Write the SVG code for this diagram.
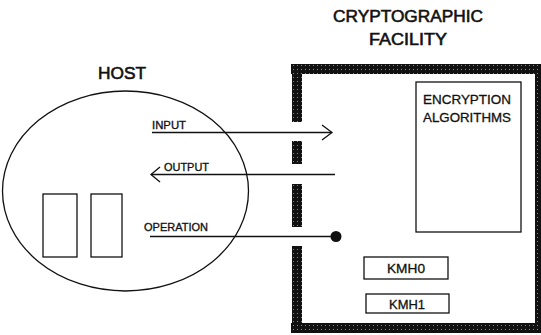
<svg xmlns="http://www.w3.org/2000/svg" width="541" height="335" viewBox="0 0 541 335">
<style>
  .t { font-family: "Liberation Sans", "DejaVu Sans", sans-serif; fill: #111; stroke: #111; stroke-width: 0.3; }
  .big { stroke-width: 0.6; }
  .ln { stroke: #111; stroke-width: 1.3; fill: none; }
  .bx { stroke: #111; stroke-width: 1.3; fill: #fff; }
  .wall { fill: url(#stipple); }
</style>
<defs>
  <pattern id="stipple" width="4" height="4" patternUnits="userSpaceOnUse">
    <rect width="4" height="4" fill="#111"/>
    <rect x="1" y="1" width="1" height="1" fill="#888"/>
  </pattern>
</defs>
<rect width="541" height="335" fill="#fff"/>

<g id="title">
  <text class="t big" x="408" y="22" font-size="17" text-anchor="middle" textLength="150" lengthAdjust="spacingAndGlyphs">CRYPTOGRAPHIC</text>
  <text class="t big" x="408" y="45" font-size="17" text-anchor="middle" textLength="78" lengthAdjust="spacingAndGlyphs">FACILITY</text>
</g>

<g id="host">
  <text class="t big" x="98" y="79" font-size="17" textLength="48" lengthAdjust="spacingAndGlyphs">HOST</text>
  <ellipse class="ln" cx="125.5" cy="191" rx="123" ry="100"/>
  <rect class="ln" x="43" y="194" width="34" height="63"/>
  <rect class="ln" x="91" y="194" width="31" height="63"/>
</g>

<g id="facility">
  <rect class="wall" x="291" y="64" width="250" height="10"/>
  <rect class="wall" x="535" y="64" width="6" height="269"/>
  <rect class="wall" x="291" y="323" width="250" height="10"/>
  <rect class="wall" x="292" y="64" width="10" height="58"/>
  <rect class="wall" x="292" y="141" width="10" height="23"/>
  <rect class="wall" x="292" y="184" width="10" height="43"/>
  <rect class="wall" x="292" y="246" width="10" height="87"/>
</g>

<g id="encryption">
  <rect class="bx" x="416" y="82" width="105" height="150"/>
  <text class="t" x="423" y="104" font-size="13" textLength="88" lengthAdjust="spacingAndGlyphs">ENCRYPTION</text>
  <text class="t" x="423" y="122" font-size="13" textLength="88" lengthAdjust="spacingAndGlyphs">ALGORITHMS</text>
</g>

<g id="kmh0">
  <rect class="bx" x="364" y="257" width="84" height="22"/>
  <text class="t" x="406" y="273" font-size="13" text-anchor="middle" textLength="38" lengthAdjust="spacingAndGlyphs">KMH0</text>
</g>

<g id="kmh1">
  <rect class="bx" x="366" y="294" width="83" height="19"/>
  <text class="t" x="407" y="309" font-size="13" text-anchor="middle" textLength="36" lengthAdjust="spacingAndGlyphs">KMH1</text>
</g>

<g id="connectors">
  <line class="ln" x1="152" y1="132.5" x2="331" y2="132.5"/>
  <polyline class="ln" points="322,125 332,132.5 322,140"/>
  <text class="t" x="152" y="129" font-size="10" textLength="34" lengthAdjust="spacingAndGlyphs">INPUT</text>

  <line class="ln" x1="151" y1="174.5" x2="335" y2="174.5"/>
  <polyline class="ln" points="160,167 151,174.5 160,182"/>
  <text class="t" x="164" y="171" font-size="10" textLength="45" lengthAdjust="spacingAndGlyphs">OUTPUT</text>

  <line class="ln" x1="150" y1="236.5" x2="336" y2="236.5"/>
  <circle cx="336" cy="236.5" r="5.5" fill="#111"/>
  <text class="t" x="144" y="231" font-size="10" textLength="64" lengthAdjust="spacingAndGlyphs">OPERATION</text>
</g>
</svg>
